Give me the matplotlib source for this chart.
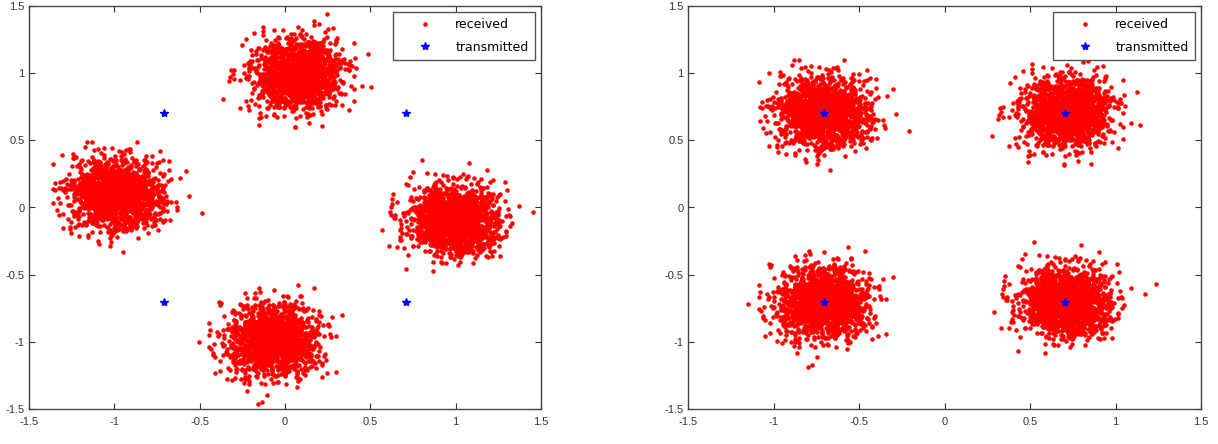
import numpy as np
import matplotlib
matplotlib.use('Agg')
import matplotlib.pyplot as plt

plt.rcParams['font.family'] = ['Liberation Sans', 'DejaVu Sans']

# transmitted QPSK symbols
tx_x = [0.707, -0.707, -0.707, 0.707]
tx_y = [0.707, 0.707, -0.707, -0.707]

# cluster centres (left: rotated channel, right: corrected)
rx_left_x = [0.07, -0.99, -0.07, 0.99]
rx_left_y = [0.99, 0.10, -0.99, -0.10]
rx_right_x = [0.71, -0.71, -0.71, 0.71]
rx_right_y = [0.71, 0.71, -0.71, -0.71]
noise_sigma = 0.13
pts_per_cluster = 1500

ticks = [-1.5, -1, -0.5, 0, 0.5, 1, 1.5]
tick_labels = ['-1.5', '-1', '-0.5', '0', '0.5', '1', '1.5']

# AWGN noise samples (the cloud itself is channel noise)
rng = np.random.default_rng(3)
noise_x = rng.normal(0, noise_sigma, (4, pts_per_cluster))
noise_y = rng.normal(0, noise_sigma, (4, pts_per_cluster))

fig = plt.figure(figsize=(12.18, 4.44), dpi=100)
ax1 = fig.add_axes([29/1218, 1 - 409/444, 512/1218, 403/444])
ax2 = fig.add_axes([688/1218, 1 - 409/444, 513/1218, 403/444])

for ax, cx, cy in [(ax1, rx_left_x, rx_left_y), (ax2, rx_right_x, rx_right_y)]:
    rx = (np.array(cx)[:, None] + noise_x).ravel()
    ry = (np.array(cy)[:, None] + noise_y).ravel()
    ax.plot(rx, ry, '.', color='red', markersize=4.5, label='received')
    ax.plot(tx_x, tx_y, '*', color='blue', markersize=6, label='transmitted')
    ax.set_xlim(-1.5, 1.5)
    ax.set_ylim(-1.5, 1.5)
    ax.set_xticks(ticks)
    ax.set_xticklabels(tick_labels)
    ax.set_yticks(ticks)
    ax.set_yticklabels(tick_labels)
    ax.tick_params(direction='in', top=True, right=True, length=4,
                   labelsize=8, labelcolor='#333333', color='#333333', pad=3)
    ax.tick_params(axis='x', pad=6)
    for s in ax.spines.values():
        s.set_color('#444444')
        s.set_linewidth(1)
    leg = ax.legend(loc='upper right', prop={'family': 'DejaVu Sans', 'size': 9},
                    fancybox=False, edgecolor='#555555', framealpha=1,
                    borderpad=0.5, labelspacing=0.75, handletextpad=0.3,
                    borderaxespad=0.5, handlelength=4.2)
    leg.get_frame().set_linewidth(1)

fig.savefig('out.png', dpi=100)
